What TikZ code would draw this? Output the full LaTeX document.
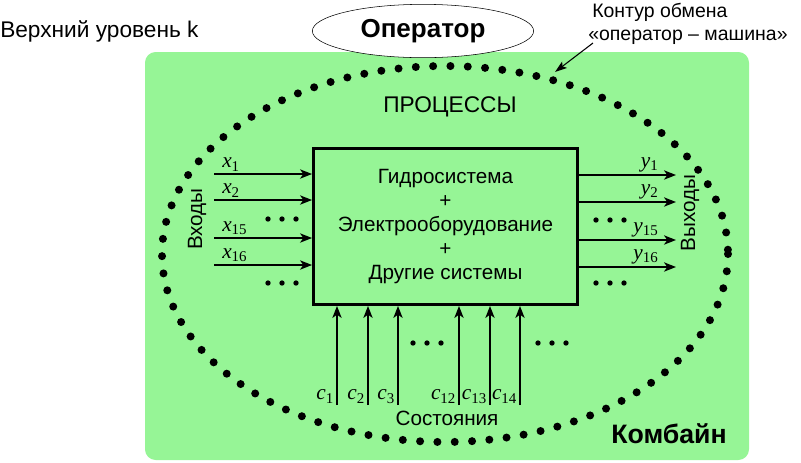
\documentclass[tikz,border=0pt]{standalone}
\usepackage{fontspec}
\setmainfont{Liberation Sans}
\newfontfamily\timesfont{Liberation Serif}
\usetikzlibrary{arrows.meta,positioning,shapes.geometric}
\definecolor{CombineGreen}{HTML}{96F596}
\newcommand{\sigvar}[2]{{\timesfont\itshape #1}\textsubscript{\timesfont #2}}

\begin{document}
\begin{tikzpicture}[
  x=0.75pt, y=-0.75pt,
  sig/.style={-{Stealth[length=9pt,width=7pt,inset=2.5pt]},line width=1pt},
  lab/.style={font=\fontsize{16}{16}\selectfont,inner sep=1pt},
  txt/.style={font=\fontsize{15.5}{18}\selectfont,align=center},
  pt3/.style={fill,circle,inner sep=0pt,minimum size=4pt}
]
  \useasboundingbox (0,0) rectangle (801,462);
  \fill[CombineGreen,rounded corners=8pt] (145,52) rectangle (749,460);
  % exchange contour
  \draw[line width=6pt,line cap=round,dash pattern=on 0pt off 13pt]
    (445,254) ellipse [x radius=283, y radius=188];

  \node[font=\fontsize{17}{17}\selectfont,anchor=base west,inner sep=0pt] (level) at (0,37) {Верхний уровень k};
  \node[draw,fill=white,ellipse,minimum width=166pt,minimum height=40pt,inner sep=0pt,
        font=\bfseries\fontsize{19.5}{19.5}\selectfont] (op) at (423,31) {Оператор};
  \node[font=\fontsize{14.6}{17.5}\selectfont,align=left,anchor=west,inner sep=0pt] (loop) at (588,24)
    {\hspace{3pt}Контур обмена\\«оператор – машина»};
  \coordinate (tip) at (555,72);
  \draw[-{Stealth[length=9pt,width=6pt,inset=2pt]},line width=0.8pt] (593,43) -- (tip);

  \node[font=\fontsize{17}{17}\selectfont] (proc) at (450,107) {ПРОЦЕССЫ};
  \node[draw,line width=2.2pt,minimum width=198pt,minimum height=117pt,txt] (sys) at (445.5,226.5)
    {Гидросистема\\+\\Электрооборудование\\+\\Другие системы};

  % inputs
  \foreach \y/\n [count=\i] in {174/1,200/2,238/15,265/16} {
    \coordinate (in\i) at (214,\y);
    \draw[sig] (in\i) -- (in\i -| sys.west);
    \node[lab,anchor=south west] (x\i) at ([xshift=5pt,yshift=1pt]in\i) {\sigvar{x}{\n}};
  }
  % outputs
  \foreach \y/\n [count=\i] in {175/1,202/2,240/15,267/16} {
    \coordinate (out\i) at (676,\y);
    \draw[sig] (out\i -| sys.east) -- (out\i);
    \node[lab,anchor=south east] (y\i) at ([xshift=-12pt,yshift=1pt]out\i) {\sigvar{y}{\n}};
  }
  % states
  \foreach \x/\n [count=\i] in {337/1,368/2,398/3,459/12,490/13,520/14} {
    \coordinate (st\i) at (\x,405);
    \draw[sig] (st\i) -- (st\i |- sys.south);
    \node[lab,anchor=south east] (c\i) at ([xshift=-1pt]st\i) {\sigvar{c}{\n}};
  }
  % ellipsis dots
  \foreach \cx/\cy in {282/219,282/283,610/220,610/283,427/343,552/343}
    \foreach \d in {-14,0,14}
      \node[pt3] at (\cx+\d,\cy) {};

  \node[txt,rotate=90] (inp) at (197,219) {Входы};
  \node[txt,rotate=90] (outp) at (690,213) {Выходы};
  \node[txt] (states) at (447,418) {Состояния};
  \node[font=\bfseries\fontsize{20}{20}\selectfont] (comb) at (669,434) {Комбайн};
\end{tikzpicture}
\end{document}
